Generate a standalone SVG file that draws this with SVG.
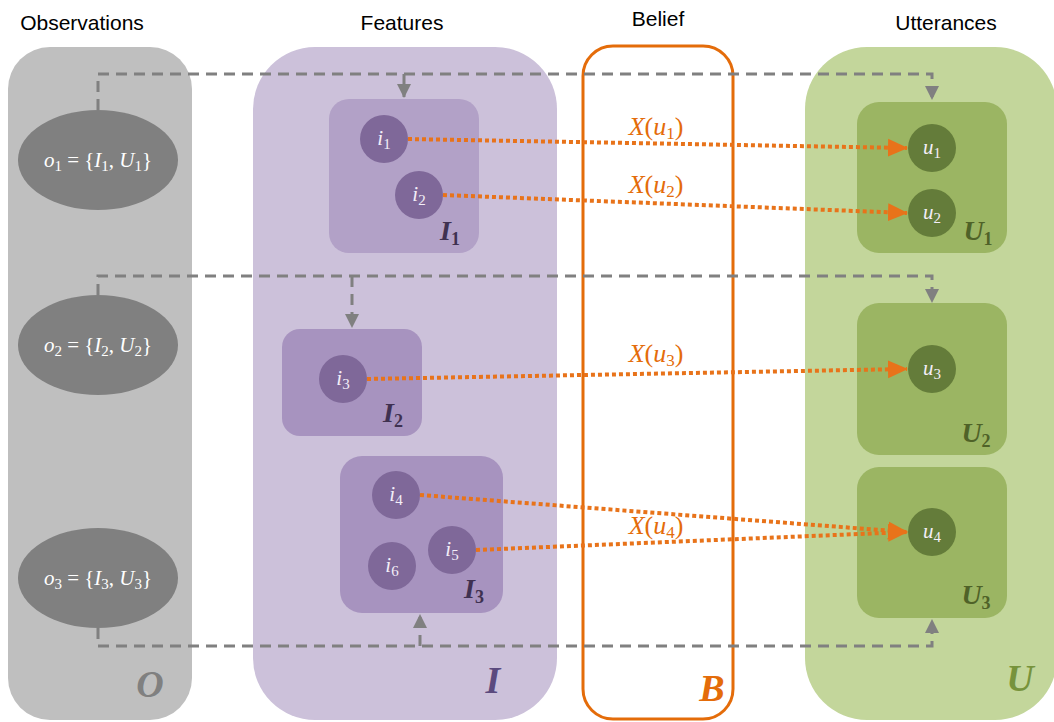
<svg xmlns="http://www.w3.org/2000/svg" width="1054" height="722" viewBox="0 0 1054 722">
  <style>
    .title { font-family: "Liberation Sans", Arial, sans-serif; font-size: 21px; fill: #000; text-anchor: middle; }
    .math { font-family: "Liberation Serif", "DejaVu Serif", serif; font-style: italic; }
    .up { font-style: normal; }
    .sub { font-size: 15px; font-style: normal; }
    .otext { font-size: 21px; fill: #fff; text-anchor: middle; }
    .ctext { font-size: 21px; fill: #f3eef8; text-anchor: middle; }
    .boxlabel { font-size: 28px; font-weight: bold; text-anchor: middle; }
    .bsub { font-size: 18px; }
    .biglabel { font-size: 38px; font-weight: bold; text-anchor: middle; }
    .xlabel { font-size: 26px; fill: #e46c0a; text-anchor: middle; }
    .xsub { font-size: 17px; }
    .dash { fill: none; stroke: #808080; stroke-width: 3; stroke-dasharray: 11 7; }
    .dotted { fill: none; stroke: #e8731a; stroke-width: 4; stroke-dasharray: 4 3; }
    .ibox1 { fill: #b2a1c7; }
    .ibox { fill: #a793bf; }
    .icirc { fill: #7f6899; }
    .ubox { fill: #9bb563; }
    .ucirc { fill: #647c3a; }
  </style>
  <defs>
    <marker id="greyArrow" markerUnits="userSpaceOnUse" markerWidth="14" markerHeight="14" viewBox="0 0 14 14" refX="13" refY="7" orient="auto">
      <path d="M0,0 L14,7 L0,14 Z" fill="#808080"/>
    </marker>
    <marker id="orangeArrow" markerUnits="userSpaceOnUse" markerWidth="20" markerHeight="20" viewBox="0 0 20 20" refX="19" refY="10" orient="auto">
      <path d="M0,1 L20,10 L0,19 Z" fill="#e8731a"/>
    </marker>
  </defs>

  <rect width="1054" height="722" fill="#ffffff"/>

  <!-- column titles -->
  <text class="title" x="82" y="30">Observations</text>
  <text class="title" x="402" y="30">Features</text>
  <text class="title" x="658" y="26">Belief</text>
  <text class="title" x="946" y="30">Utterances</text>

  <!-- Observations column -->
  <g id="panel-O">
    <rect x="8" y="47" width="184" height="673" rx="42" fill="#bfbfbf"/>
    <text class="math biglabel" x="150" y="697" fill="#808080">O</text>
  </g>

  <!-- Features column -->
  <g id="panel-I">
    <rect x="253" y="47" width="304" height="673" rx="62" fill="#ccc1da"/>
    <text class="math biglabel" x="493" y="693" fill="#5b4a7e">I</text>
  </g>

  <!-- Belief column -->
  <g id="panel-B">
    <rect x="583" y="46" width="150" height="673" rx="30" fill="none" stroke="#e46c0a" stroke-width="3"/>
    <text class="math biglabel" x="712" y="701" fill="#e46c0a">B</text>
  </g>

  <!-- Utterances column -->
  <g id="panel-U">
    <rect x="805" y="47" width="252" height="673" rx="62" fill="#c3d69b"/>
    <text class="math biglabel" x="1020" y="691" fill="#77933c">U</text>
  </g>

  <!-- observation nodes -->
  <g id="o1">
    <ellipse cx="98" cy="160" rx="80" ry="50" fill="#808080"/>
    <text class="math otext" x="98" y="167">o<tspan class="sub" dy="4">1</tspan><tspan class="up" dy="-4"> = {</tspan>I<tspan class="sub" dy="4">1</tspan><tspan class="up" dy="-4">, </tspan>U<tspan class="sub" dy="4">1</tspan><tspan class="up" dy="-4">}</tspan></text>
  </g>
  <g id="o2">
    <ellipse cx="98" cy="345" rx="80" ry="50" fill="#808080"/>
    <text class="math otext" x="98" y="352">o<tspan class="sub" dy="4">2</tspan><tspan class="up" dy="-4"> = {</tspan>I<tspan class="sub" dy="4">2</tspan><tspan class="up" dy="-4">, </tspan>U<tspan class="sub" dy="4">2</tspan><tspan class="up" dy="-4">}</tspan></text>
  </g>
  <g id="o3">
    <ellipse cx="98" cy="578" rx="80" ry="50" fill="#808080"/>
    <text class="math otext" x="98" y="585">o<tspan class="sub" dy="4">3</tspan><tspan class="up" dy="-4"> = {</tspan>I<tspan class="sub" dy="4">3</tspan><tspan class="up" dy="-4">, </tspan>U<tspan class="sub" dy="4">3</tspan><tspan class="up" dy="-4">}</tspan></text>
  </g>

  <!-- feature groups -->
  <g id="I1">
    <rect class="ibox1" x="329" y="99" width="150" height="154" rx="20"/>
    <text class="math boxlabel" x="450" y="240" fill="#3f3151">I<tspan class="sub bsub" dy="5">1</tspan></text>
  </g>
  <g id="i1">
    <circle class="icirc" cx="384" cy="139" r="24"/>
    <text class="math ctext" x="384" y="145">i<tspan class="sub" dy="4">1</tspan></text>
  </g>
  <g id="i2">
    <circle class="icirc" cx="419" cy="195" r="24"/>
    <text class="math ctext" x="419" y="201">i<tspan class="sub" dy="4">2</tspan></text>
  </g>

  <g id="I2">
    <rect class="ibox" x="282" y="329" width="140" height="107" rx="18"/>
    <text class="math boxlabel" x="393" y="422" fill="#3f3151">I<tspan class="sub bsub" dy="5">2</tspan></text>
  </g>
  <g id="i3">
    <circle class="icirc" cx="343" cy="379" r="24"/>
    <text class="math ctext" x="343" y="385">i<tspan class="sub" dy="4">3</tspan></text>
  </g>

  <g id="I3">
    <rect class="ibox" x="340" y="456" width="163" height="157" rx="22"/>
    <text class="math boxlabel" x="474" y="598" fill="#3f3151">I<tspan class="sub bsub" dy="5">3</tspan></text>
  </g>
  <g id="i4">
    <circle class="icirc" cx="396" cy="495" r="24"/>
    <text class="math ctext" x="396" y="501">i<tspan class="sub" dy="4">4</tspan></text>
  </g>
  <g id="i5">
    <circle class="icirc" cx="452" cy="550" r="24"/>
    <text class="math ctext" x="452" y="556">i<tspan class="sub" dy="4">5</tspan></text>
  </g>
  <g id="i6">
    <circle class="icirc" cx="392" cy="566" r="24"/>
    <text class="math ctext" x="392" y="572">i<tspan class="sub" dy="4">6</tspan></text>
  </g>

  <!-- utterance groups -->
  <g id="U1">
    <rect class="ubox" x="857" y="102" width="150" height="151" rx="22"/>
    <text class="math boxlabel" x="978" y="240" fill="#4f6228">U<tspan class="sub bsub" dy="5">1</tspan></text>
  </g>
  <g id="u1">
    <circle class="ucirc" cx="932" cy="148" r="24"/>
    <text class="math ctext" x="932" y="154">u<tspan class="sub" dy="4">1</tspan></text>
  </g>
  <g id="u2">
    <circle class="ucirc" cx="932" cy="213" r="24"/>
    <text class="math ctext" x="932" y="219">u<tspan class="sub" dy="4">2</tspan></text>
  </g>

  <g id="U2">
    <rect class="ubox" x="857" y="303" width="150" height="152" rx="22"/>
    <text class="math boxlabel" x="976" y="442" fill="#4f6228">U<tspan class="sub bsub" dy="5">2</tspan></text>
  </g>
  <g id="u3">
    <circle class="ucirc" cx="932" cy="369" r="24"/>
    <text class="math ctext" x="932" y="375">u<tspan class="sub" dy="4">3</tspan></text>
  </g>

  <g id="U3">
    <rect class="ubox" x="857" y="467" width="150" height="151" rx="22"/>
    <text class="math boxlabel" x="976" y="604" fill="#4f6228">U<tspan class="sub bsub" dy="5">3</tspan></text>
  </g>
  <g id="u4">
    <circle class="ucirc" cx="932" cy="532" r="24"/>
    <text class="math ctext" x="932" y="538">u<tspan class="sub" dy="4">4</tspan></text>
  </g>

  <!-- connectors -->
  <g id="connectors">
    <!-- observation 1 links -->
    <path class="dash" d="M98,110 V74 H932 V99" marker-end="url(#greyArrow)"/>
    <path class="dash" d="M404,74 V97" marker-end="url(#greyArrow)"/>
    <!-- observation 2 links -->
    <path class="dash" d="M98,295 V276 H932 V302" marker-end="url(#greyArrow)"/>
    <path class="dash" d="M352,276 V327" marker-end="url(#greyArrow)"/>
    <!-- observation 3 links -->
    <path class="dash" d="M98,628 V646 H932 V620" marker-end="url(#greyArrow)"/>
    <path class="dash" d="M420,646 V615" marker-end="url(#greyArrow)"/>

    <!-- belief mappings -->
    <path class="dotted" d="M408,139 L907,148" marker-end="url(#orangeArrow)"/>
    <path class="dotted" d="M443,195 L907,213" marker-end="url(#orangeArrow)"/>
    <path class="dotted" d="M367,379 L907,369" marker-end="url(#orangeArrow)"/>
    <path class="dotted" d="M420,495 L907,532" marker-end="url(#orangeArrow)"/>
    <path class="dotted" d="M476,550 L907,532" marker-end="url(#orangeArrow)"/>

    <text class="math xlabel" x="656" y="135">X<tspan class="up">(</tspan>u<tspan class="sub xsub" dy="4">1</tspan><tspan class="up" dy="-4">)</tspan></text>
    <text class="math xlabel" x="656" y="193">X<tspan class="up">(</tspan>u<tspan class="sub xsub" dy="4">2</tspan><tspan class="up" dy="-4">)</tspan></text>
    <text class="math xlabel" x="656" y="362">X<tspan class="up">(</tspan>u<tspan class="sub xsub" dy="4">3</tspan><tspan class="up" dy="-4">)</tspan></text>
    <text class="math xlabel" x="656" y="534">X<tspan class="up">(</tspan>u<tspan class="sub xsub" dy="4">4</tspan><tspan class="up" dy="-4">)</tspan></text>
  </g>
</svg>
